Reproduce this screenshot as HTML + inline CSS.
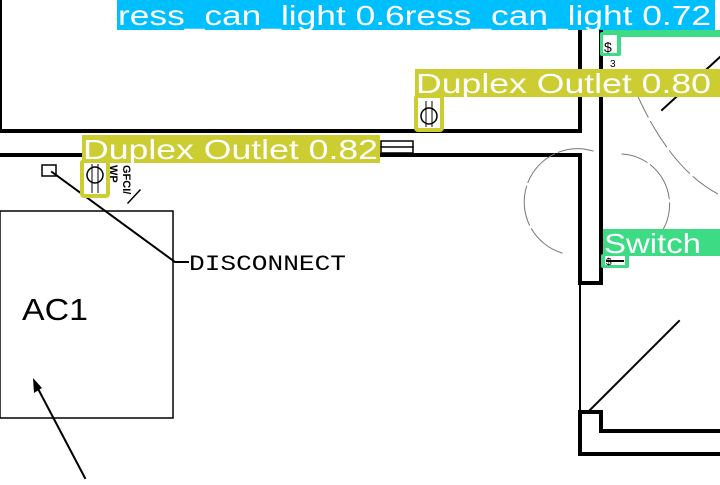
<!DOCTYPE html><html><head><style>body{margin:0;width:720px;height:480px;overflow:hidden;background:#fff;font-family:"Liberation Sans",sans-serif}</style></head><body>
<svg width="720" height="480" xmlns="http://www.w3.org/2000/svg">
<g stroke="#000" fill="none" stroke-linecap="square">
<line x1="1" y1="0" x2="1" y2="131" stroke-width="2"/>
<polyline points="0,131 580,131 580,0" stroke-width="4"/>
<polyline points="0,155 580,155 580,283 601,283 601,0" stroke-width="4"/>
<line x1="580" y1="283" x2="580" y2="412" stroke-width="2"/>
<polyline points="720,431 601,431 601,412 580,412 580,454 720,454" stroke-width="4"/>
<line x1="590" y1="410" x2="679" y2="321" stroke-width="2"/>
<line x1="662" y1="110" x2="720" y2="57" stroke-width="2"/>
<path d="M562,253 A45,45 0 1,1 593,151" stroke="#777" stroke-width="1" stroke-dasharray="40,4"/>
<path d="M616,255 A44,44 0 0,0 622,154" stroke="#777" stroke-width="1" stroke-dasharray="40,4"/>
<path d="M635,90 Q670,170 720,195" stroke="#777" stroke-width="1" stroke-dasharray="30,5"/>
<rect x="381" y="141" width="32" height="12" stroke-width="1.5"/>
<line x1="381" y1="147" x2="413" y2="147" stroke-width="1.5"/>
<rect x="42" y="165" width="14" height="11" stroke-width="1.5"/>
<polyline points="52,172 175,262 188,262" stroke-width="2"/>
<rect x="0" y="211" width="173" height="207" stroke-width="1.5"/>
<line x1="85" y1="478" x2="35" y2="383" stroke-width="2"/>
<line x1="128" y1="203" x2="140" y2="190" stroke-width="1.5"/>
</g>
<polygon points="33,378 34,393 42,388" fill="#000"/>
<text x="189" y="270" font-size="22" font-family="Liberation Mono" textLength="157" lengthAdjust="spacingAndGlyphs">DISCONNECT</text>
<text x="22" y="320" font-size="31" textLength="66" lengthAdjust="spacingAndGlyphs">AC1</text>
<text transform="translate(123,165) rotate(90)" font-size="11" font-weight="bold">GFCI/</text>
<text transform="translate(110,165) rotate(90)" font-size="11" font-weight="bold">WP</text>
<rect x="117" y="0" width="598" height="30" fill="#00bfff"/>
<text x="118" y="25" font-size="28" fill="#fff" textLength="593" lengthAdjust="spacingAndGlyphs">ress_can_light 0.6ress_can_light 0.72</text>
<rect x="603" y="30" width="117" height="7" fill="#3ddc84"/>
<rect x="600" y="32" width="21" height="24" fill="#3ddc84" rx="2"/>
<rect x="603" y="35" width="14" height="18" fill="#fff"/>
<text x="604" y="52" font-size="14">$</text>
<text x="610" y="67" font-size="10">3</text>
<rect x="415" y="69" width="305" height="28" fill="#cccc33"/>
<text x="416" y="93" font-size="28" fill="#fff" textLength="295" lengthAdjust="spacingAndGlyphs">Duplex Outlet 0.80</text>
<rect x="416" y="96" width="26" height="34" fill="none" stroke="#cccc33" stroke-width="4" rx="2"/>
<circle cx="429" cy="116" r="8" fill="none" stroke="#000" stroke-width="1.5"/>
<line x1="426" y1="101" x2="426" y2="127" stroke="#000"/><line x1="432" y1="101" x2="432" y2="127" stroke="#000"/>
<rect x="82" y="135" width="298" height="28" fill="#cccc33"/>
<text x="83" y="159" font-size="28" fill="#fff" textLength="295" lengthAdjust="spacingAndGlyphs">Duplex Outlet 0.82</text>
<rect x="82" y="161" width="26" height="35" fill="none" stroke="#cccc33" stroke-width="4" rx="2"/>
<circle cx="95" cy="175" r="8" fill="none" stroke="#000" stroke-width="1.5"/>
<line x1="92" y1="164" x2="92" y2="193" stroke="#000"/><line x1="98" y1="164" x2="98" y2="193" stroke="#000"/>
<rect x="603" y="229" width="117" height="27" fill="#3ddc84"/>
<text x="604" y="253" font-size="28" fill="#fff" textLength="97" lengthAdjust="spacingAndGlyphs">Switch</text>
<rect x="601" y="254" width="28" height="14" fill="#3ddc84" rx="2"/>
<rect x="605" y="256" width="20" height="9" fill="#fff"/>
<text x="606" y="265" font-size="10">$</text>
<line x1="606" y1="261" x2="624" y2="261" stroke="#000" stroke-width="2"/>
</svg></body></html>
